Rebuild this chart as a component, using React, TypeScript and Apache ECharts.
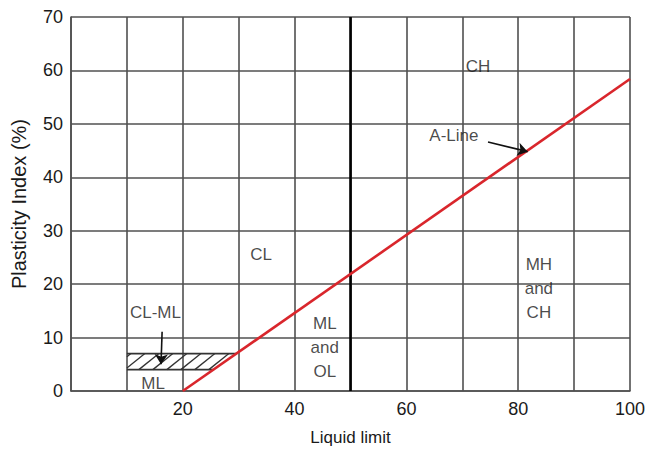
import React, { useEffect, useRef } from "react";
import * as echarts from "echarts";

// Axis ranges
const X_MIN = 0;
const X_MAX = 100;
const Y_MIN = 0;
const Y_MAX = 70;
const GRID_STEP = 10;
const X_LABELS_SHOWN = [20, 40, 60, 80, 100];

// A-line: PI = 0.73 (LL - 20)
const A_LINE_SLOPE = 0.73;
const A_LINE_ORIGIN = 20;
const A_LINE_LL = [20, 100];

// LL = 50 divider
const LL_DIVIDER = 50;

// CL-ML hatched zone
const CLML_PI = [4, 7];
const CLML_LL_START = 10;

// Zone labels [LL, PI, text]
const ZONE_LABELS: [number, number, string][] = [
  [72.8, 60.8, "CH"],
  [34.0, 25.5, "CL"],
  [45.4, 8.2, "ML\nand\nOL"],
  [83.7, 19.1, "MH\nand\nCH"],
  [15.1, 14.6, "CL-ML"],
  [14.7, 1.4, "ML"],
  [68.5, 47.9, "A-Line"],
];

// Annotation arrows [from, to]
const ARROWS: [number, number][][] = [
  [[74.6, 46.6], [81.7, 44.8]],
  [[16.3, 11.1], [16.1, 5.0]],
];

const GRID_COLOR = "#505050";
const TEXT_COLOR = "#1a1a1a";
const FONT = "'Liberation Sans', Arial, sans-serif";

const aLine = (ll: number) => A_LINE_SLOPE * (ll - A_LINE_ORIGIN);
const aLineInv = (pi: number) => pi / A_LINE_SLOPE + A_LINE_ORIGIN;

export default function App() {
  const ref = useRef<HTMLDivElement>(null);

  useEffect(() => {
    if (!ref.current) return;
    const chart = echarts.init(ref.current, undefined, { renderer: "svg" });

    const [piLo, piHi] = CLML_PI;

    const option: any = {
      animation: false,
      backgroundColor: "#fff",
      textStyle: { fontFamily: FONT },
      grid: {
        left: 71,
        right: 22,
        top: 17,
        bottom: 61,
        containLabel: false,
        outerBoundsMode: "none",
      },
      xAxis: {
        type: "value",
        min: X_MIN,
        max: X_MAX,
        interval: GRID_STEP,
        name: "Liquid limit",
        nameLocation: "middle",
        nameGap: 38,
        nameTextStyle: { fontSize: 17, color: TEXT_COLOR, fontFamily: FONT },
        axisLine: { show: true, onZero: false, lineStyle: { color: GRID_COLOR, width: 1.6 } },
        axisTick: { show: false },
        axisLabel: {
          color: TEXT_COLOR,
          fontSize: 18,
          margin: 9,
          fontFamily: FONT,
          formatter: (v: number) => (X_LABELS_SHOWN.includes(v) ? String(v) : ""),
        },
        splitLine: { show: true, lineStyle: { color: GRID_COLOR, width: 1.6 } },
      },
      yAxis: {
        type: "value",
        min: Y_MIN,
        max: Y_MAX,
        interval: GRID_STEP,
        name: "Plasticity Index (%)",
        nameLocation: "middle",
        nameGap: 42,
        nameTextStyle: { fontSize: 20, color: TEXT_COLOR, fontFamily: FONT },
        axisLine: { show: true, onZero: false, lineStyle: { color: GRID_COLOR, width: 1.6 } },
        axisTick: { show: false },
        axisLabel: { color: TEXT_COLOR, fontSize: 18, margin: 8, fontFamily: FONT },
        splitLine: { show: true, lineStyle: { color: GRID_COLOR, width: 1.6 } },
      },
      series: [
        {
          type: "line",
          data: [
            [LL_DIVIDER, Y_MIN],
            [LL_DIVIDER, Y_MAX],
          ],
          symbol: "none",
          lineStyle: { color: "#000", width: 2.6 },
          z: 3,
        },
        {
          type: "line",
          data: [
            [CLML_LL_START, piHi],
            [aLineInv(piHi), piHi],
          ],
          symbol: "none",
          lineStyle: { color: "#333", width: 1.6 },
          z: 3,
        },
        {
          type: "line",
          data: [
            [CLML_LL_START, piLo],
            [aLineInv(piLo), piLo],
          ],
          symbol: "none",
          lineStyle: { color: "#333", width: 1.6 },
          z: 3,
        },
        {
          type: "custom",
          data: [[CLML_LL_START, piLo]],
          z: 3,
          renderItem: (_params: any, api: any) => {
            const bl = api.coord([CLML_LL_START, piLo]);
            const tl = api.coord([CLML_LL_START, piHi]);
            const br = api.coord([aLineInv(piLo), piLo]);
            const tr = api.coord([aLineInv(piHi), piHi]);
            const h = bl[1] - tl[1];
            const dx = h * 1.25;
            const spacing = 14;
            const rs = tr[0] - br[0];
            const k = dx - rs;
            const children: any[] = [];
            for (let s = bl[0] - dx + 4; s < br[0]; s += spacing) {
              let tmin = Math.max(0, (bl[0] - s) / dx);
              let tmax = 1;
              if (k > 0) tmax = Math.min(tmax, (br[0] - s) / k);
              else if (k < 0) tmin = Math.max(tmin, (br[0] - s) / k);
              else if (s > br[0]) continue;
              if (tmin >= tmax) continue;
              children.push({
                type: "line",
                shape: {
                  x1: s + tmin * dx,
                  y1: bl[1] - tmin * h,
                  x2: s + tmax * dx,
                  y2: bl[1] - tmax * h,
                },
                style: { stroke: "#333", lineWidth: 1.3 },
              });
            }
            return { type: "group", children };
          },
        },
        {
          type: "line",
          data: A_LINE_LL.map((ll) => [ll, aLine(ll)]),
          symbol: "none",
          lineStyle: { color: "#d9262c", width: 2.6 },
          z: 4,
        },
        {
          type: "lines",
          coordinateSystem: "cartesian2d",
          data: ARROWS.map((a) => ({ coords: a })),
          symbol: ["none", "arrow"],
          symbolSize: [0, 10],
          lineStyle: { color: "#111", width: 1.6, opacity: 1 },
          z: 5,
        },
        {
          type: "scatter",
          data: ZONE_LABELS.map(([x, y, t]) => ({ value: [x, y], name: t })),
          symbolSize: 1,
          itemStyle: { color: "rgba(0,0,0,0)" },
          label: {
            show: true,
            position: "inside",
            formatter: "{b}",
            color: TEXT_COLOR,
            fontSize: 17,
            lineHeight: 24,
            fontFamily: FONT,
            align: "center",
            verticalAlign: "middle",
          },
          z: 6,
        },
      ],
    };

    chart.setOption(option);
    return () => chart.dispose();
  }, []);

  return (
    <div
      ref={ref}
      style={{ position: "fixed", left: 0, top: 0, width: 652, height: 452 }}
    />
  );
}
